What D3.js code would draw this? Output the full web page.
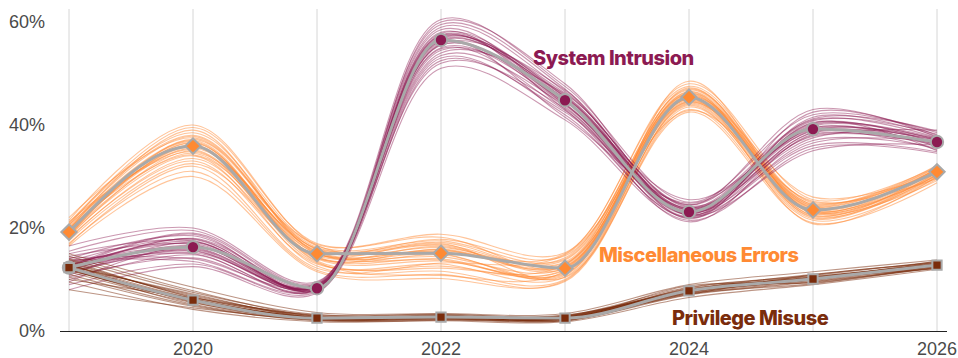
<!DOCTYPE html>
<html><head><meta charset="utf-8">
<script src="https://cdn.jsdelivr.net/npm/d3@7"></script>
<style>body{margin:0;background:#fff}svg{display:block}</style>
</head><body><svg id="c" width="958" height="358"></svg>
<script>
const years = [2019,2020,2021,2022,2023,2024,2025,2026];
const xTickYears = [2020,2022,2024,2026];
const yTicks = [0,20,40,60];

const intrusionMain = [12.3,16.3,8.3,56.5,44.8,23.1,39.2,36.7];
const errorsMain = [19.2,35.9,15.0,15.1,12.2,45.4,23.5,30.9];
const misuseMain = [12.3,6.0,2.5,2.7,2.5,7.8,10.1,12.8];

const intrusionSamples = [
 [10.5,14.2,8.0,53.0,42.0,22.0,37.0,35.5],[14.0,18.5,9.0,59.0,46.5,24.5,41.0,37.5],
 [12.0,15.5,8.4,55.0,44.0,22.8,38.5,36.2],[13.5,17.8,8.8,57.8,45.5,23.8,40.2,37.0],
 [9.0,13.0,7.6,51.0,41.0,21.5,35.5,34.5],[15.5,19.5,9.4,60.5,47.5,25.0,42.0,38.5],
 [11.2,16.0,8.2,56.0,43.5,22.5,38.0,36.0],[12.8,17.0,8.6,57.0,45.8,23.5,39.8,37.2],
 [16.5,20.0,9.6,54.0,46.0,24.0,37.5,39.0],[8.0,12.5,7.4,58.0,43.0,22.0,40.5,35.0],
 [13.0,15.0,8.0,52.5,42.5,23.0,36.5,36.8],[11.8,18.0,9.2,59.5,47.0,21.8,41.5,37.8],
 [14.5,16.8,8.5,55.5,44.5,25.5,38.8,36.5],[10.0,14.8,7.8,57.5,45.0,23.2,39.5,35.8],
 [12.5,19.0,9.0,53.5,43.8,22.2,42.5,38.0],[13.8,13.5,8.1,56.8,46.2,24.2,37.8,36.3],
 [9.5,16.5,8.7,58.5,44.2,23.6,40.0,37.4],[15.0,17.5,8.3,54.5,45.2,22.6,36.0,34.8],
 [11.5,15.2,9.1,56.2,41.5,24.8,39.2,36.9],[12.2,18.8,7.9,60.0,48.0,23.0,41.2,38.8],
 [14.2,14.0,8.9,52.0,43.2,21.2,38.2,35.2],[10.8,17.2,8.4,57.2,44.8,24.5,43.0,37.6],
 [13.2,16.2,8.6,55.8,46.8,22.4,35.0,36.1],[11.0,15.8,8.2,54.8,42.8,23.9,40.8,38.2],
 [12.6,17.4,8.5,56.6,45.4,23.4,39.4,36.6],[11.6,16.6,8.3,55.6,44.6,23.0,38.6,37.1],
 [13.4,15.6,8.7,57.4,44.0,22.7,40.4,36.4],[12.0,17.9,8.0,56.4,45.6,23.7,39.0,37.3]
];
const errorsSamples = [
 [18.0,33.0,13.0,13.0,10.5,44.0,22.5,30.0],[21.0,38.5,16.5,17.5,14.0,47.0,24.5,31.8],
 [19.5,36.5,15.0,15.8,12.8,45.8,23.8,31.2],[17.0,31.0,11.8,11.0,9.6,43.0,21.5,29.5],
 [20.5,39.5,17.0,18.8,15.2,48.0,25.5,32.0],[18.8,34.5,14.0,13.6,11.8,44.8,23.0,30.5],
 [22.0,37.5,16.2,16.8,13.4,46.5,24.0,31.5],[16.5,30.0,11.5,10.2,9.8,42.5,21.0,28.8],
 [19.0,36.0,15.6,17.8,14.6,46.0,22.0,30.8],[20.0,37.0,14.4,14.8,11.2,45.2,25.0,31.0],
 [18.2,35.0,13.2,12.6,12.0,44.5,23.4,30.2],[21.5,40.0,16.6,15.4,15.0,47.5,24.8,32.2],
 [17.5,32.5,14.8,17.0,10.4,43.5,22.2,29.8],[19.8,36.8,13.6,12.2,12.9,46.2,23.6,31.4],
 [20.8,38.0,15.8,16.2,13.8,45.5,26.0,30.6],[18.5,34.0,12.6,11.6,10.0,44.2,22.8,29.2],
 [19.2,35.5,16.8,18.2,12.6,47.2,23.2,31.6],[17.8,33.5,14.2,14.0,11.0,43.8,21.8,30.4],
 [20.2,37.8,15.4,15.6,14.2,46.8,24.2,31.0],[18.6,36.2,13.4,10.8,11.6,45.0,20.8,30.0],
 [21.2,34.8,16.0,17.2,13.2,44.6,24.6,31.9],[19.6,39.0,15.1,15.0,10.8,48.5,23.1,30.7],
 [16.8,32.0,12.2,13.2,14.8,42.8,25.2,29.6],[20.6,35.2,14.6,16.4,12.2,46.4,22.4,31.3],
 [19.4,35.8,15.3,14.4,12.3,45.6,23.3,30.9],[18.9,36.6,14.2,15.9,13.0,45.1,23.9,31.1],
 [19.9,34.2,15.0,13.8,11.4,46.1,22.9,30.3],[18.4,37.2,15.9,16.6,12.5,44.4,24.3,31.5]
];
const misuseSamples = [
 [11.0,5.0,2.0,2.2,2.0,7.0,9.5,12.2],[14.0,7.5,3.2,3.2,3.0,8.5,10.8,13.5],
 [12.5,6.2,2.6,2.8,2.6,7.8,10.2,12.9],[9.5,4.2,1.8,2.0,1.8,6.5,9.0,12.0],
 [15.0,8.5,3.6,3.4,3.4,9.0,11.5,13.8],[12.0,5.8,2.4,2.5,2.4,7.5,10.0,12.6],
 [13.2,6.8,2.9,3.0,2.8,8.2,10.5,13.1],[10.5,4.8,2.1,2.4,2.1,7.2,9.2,12.4],
 [12.8,7.0,2.7,2.6,2.9,7.9,10.4,13.0],[11.5,5.5,2.3,2.9,2.3,7.6,9.8,12.5],
 [13.8,6.5,3.0,2.7,2.7,8.0,11.0,13.3],[8.0,4.5,2.2,2.3,2.5,7.3,9.6,12.3],
 [12.2,5.2,2.5,3.1,2.2,8.4,10.6,12.8],[14.5,7.8,2.8,2.5,3.1,7.7,10.1,13.6],
 [11.8,6.0,2.6,2.8,2.4,8.8,9.4,12.7],[13.0,5.6,2.2,2.1,2.6,7.1,10.9,13.2],
 [10.0,6.4,3.1,3.3,2.9,8.1,10.3,12.1],[12.6,7.2,2.4,2.6,2.0,7.4,9.9,13.4],
 [12.4,6.1,2.5,2.7,2.5,7.8,10.1,12.8],[11.9,5.9,2.6,2.6,2.6,7.6,10.0,12.7],
 [12.9,6.3,2.4,2.8,2.4,8.0,10.2,12.9],[13.5,6.6,2.7,2.9,2.7,7.9,10.4,13.0]
];

const seriesNames = ["Miscellaneous Errors","System Intrusion","Privilege Misuse"];
const seriesColors = ["#ff8a33","#8c1a52","#7a2c0c"];

const series = [
 {name:seriesNames[0], color:seriesColors[0], main:errorsMain, samples:errorsSamples, shape:d3.symbolDiamond2, size:150, lx:599, ly:262, op:0.5},
 {name:seriesNames[1], color:seriesColors[1], main:intrusionMain, samples:intrusionSamples, shape:d3.symbolCircle, size:120, lx:533, ly:65, op:0.45},
 {name:seriesNames[2], color:seriesColors[2], main:misuseMain, samples:misuseSamples, shape:d3.symbolSquare2, size:110, lx:672, ly:325, op:0.5}
];

const svg = d3.select("#c");
const x = d3.scaleLinear().domain([2019,2026]).range([69,937]);
const y = d3.scaleLinear().domain([0,60]).range([331,22]);

svg.append("g").selectAll("line").data(years).join("line")
 .attr("x1",d=>x(d)).attr("x2",d=>x(d)).attr("y1",9).attr("y2",331)
 .attr("stroke","#d6d6d6").attr("stroke-width",1);

svg.append("g").selectAll("text").data(yTicks).join("text")
 .attr("x",45).attr("y",d=>y(d)).attr("dy","0.35em").attr("text-anchor","end")
 .attr("font-family","Liberation Sans, Arial, sans-serif").attr("font-size",18)
 .attr("fill","#4a4a4a").text(d=>d+"%");

svg.append("line").attr("x1",60).attr("x2",947).attr("y1",331.5).attr("y2",331.5)
 .attr("stroke","#222").attr("stroke-width",1.2);

svg.append("g").selectAll("text").data(xTickYears).join("text")
 .attr("x",d=>x(d)).attr("y",355).attr("text-anchor","middle")
 .attr("font-family","Liberation Sans, Arial, sans-serif").attr("font-size",18)
 .attr("fill","#4a4a4a").text(d=>d);

const sampleLine = d3.line().x((d,i)=>x(years[i])).y(d=>y(d)).curve(d3.curveCatmullRom.alpha(0.5));
const mainLine = d3.line().x((d,i)=>x(years[i])).y(d=>y(d)).curve(d3.curveMonotoneX);

series.forEach(s=>{
  svg.append("g").selectAll("path").data(s.samples).join("path")
   .attr("d",sampleLine).attr("fill","none").attr("stroke",s.color)
   .attr("stroke-width",1.1).attr("stroke-opacity",s.op);
});
series.forEach(s=>{
  svg.append("path").datum(s.main).attr("d",mainLine).attr("fill","none")
   .attr("stroke","#a9a9a9").attr("stroke-width",3);
});
series.forEach(s=>{
  svg.append("g").selectAll("path").data(s.main).join("path")
   .attr("transform",(d,i)=>`translate(${x(years[i])},${y(d)})`)
   .attr("d",d3.symbol().type(s.shape).size(s.size))
   .attr("fill",s.color).attr("stroke","#a9a9a9").attr("stroke-width",2);
});
series.forEach(s=>{
  svg.append("text").attr("x",s.lx).attr("y",s.ly)
   .attr("font-family","Inter, Liberation Sans, sans-serif").attr("font-weight",800)
   .attr("font-size",20).attr("letter-spacing",-0.5).attr("fill",s.color).text(s.name);
});
</script></body></html>
